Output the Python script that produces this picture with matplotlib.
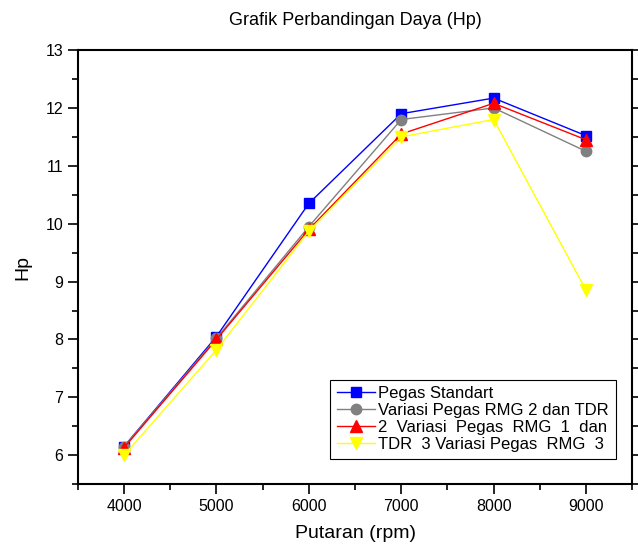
import matplotlib
matplotlib.use("agg")
import matplotlib.pyplot as plt
from matplotlib.ticker import MultipleLocator

plt.rcParams['font.family'] = ['Liberation Sans', 'DejaVu Sans']

rpm = [4000, 5000, 6000, 7000, 8000, 9000]
standart = [6.15, 8.05, 10.35, 11.9, 12.17, 11.52]
rmg2_tdr = [6.15, 8.02, 9.95, 11.8, 12.0, 11.25]
rmg1 = [6.13, 8.0, 9.9, 11.55, 12.08, 11.45]
rmg3 = [6.0, 7.82, 9.87, 11.5, 11.8, 8.85]

labels = ["Pegas Standart", "Variasi Pegas RMG 2 dan TDR",
          "2  Variasi  Pegas  RMG  1  dan", "TDR  3 Variasi Pegas  RMG  3"]

fig = plt.figure(figsize=(6.38, 5.44), dpi=100)
ax = fig.add_axes([0.122, 0.110, 0.869, 0.798])

ax.plot(rpm, standart, "-s", color="#0000ff", lw=1, ms=6.5, label=labels[0])
ax.plot(rpm, rmg2_tdr, "-o", color="#808080", lw=1, ms=7.5, label=labels[1])
ax.plot(rpm, rmg1, "-^", color="#ff0000", lw=1, ms=8, label=labels[2])
ax.plot(rpm, rmg3, "-v", color="#ffff00", lw=1, ms=8, label=labels[3])

ax.set_xlim(3500, 9500)
ax.set_ylim(5.5, 13)
ax.xaxis.set_major_locator(MultipleLocator(1000))
ax.xaxis.set_minor_locator(MultipleLocator(500))
ax.yaxis.set_major_locator(MultipleLocator(1))
ax.yaxis.set_minor_locator(MultipleLocator(0.5))
ax.tick_params(which="both", direction="out", width=1.2, labelsize=11.5)
ax.tick_params(which="major", length=7)
ax.tick_params(which="minor", length=4)
ax.tick_params(axis="y", which="both", right=True)
for s in ax.spines.values():
    s.set_linewidth(1.5)

ax.set_title("Grafik Perbandingan Daya (Hp)", fontsize=13, pad=18)
ax.set_xlabel("Putaran (rpm)", fontsize=14, labelpad=8)
ax.set_ylabel("Hp", fontsize=14, labelpad=10)

leg = ax.legend(loc="lower right", bbox_to_anchor=(0.97, 0.058), fontsize=12,
                fancybox=False, edgecolor="black", framealpha=1,
                handlelength=2.3, borderpad=0.4, labelspacing=0.12,
                handletextpad=0.2, borderaxespad=0)
leg.get_frame().set_linewidth(0.8)

fig.savefig("out.png", dpi=100)
